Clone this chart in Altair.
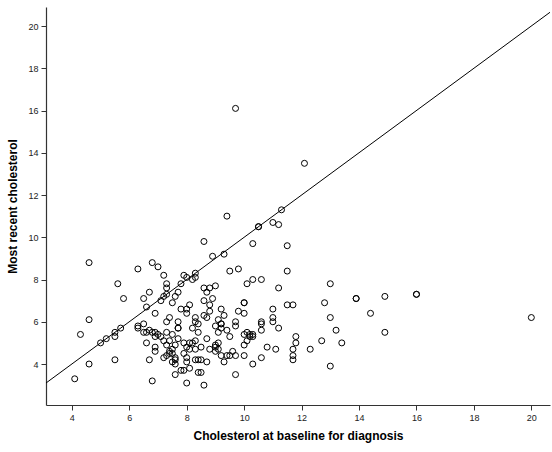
import altair as alt
import pandas as pd

baseline = [
    9.7, 12.1, 11.3, 9.4, 10.5, 10.5, 11.0, 11.2, 10.3, 11.5, 8.6, 8.9, 9.3,
    4.6, 6.8, 7.0, 6.3, 9.5, 9.8, 11.5, 7.2, 7.9, 8.0, 8.2, 8.3, 8.3, 10.3, 10.6,
    13.0, 5.6, 7.3, 7.3, 7.8, 10.1, 9.0, 8.6, 8.8, 11.2, 6.7, 7.7, 8.7,
    16.0, 16.0, 7.6, 7.2, 7.3, 14.9, 5.8, 6.5, 8.9, 13.9, 13.9, 7.1, 8.6,
    7.5, 10.0, 10.0, 12.8, 8.1, 8.8, 11.5, 11.7, 6.6, 7.8, 8.0, 9.2, 11.0,
    8.8, 9.8, 6.9, 8.0, 10.0, 14.4, 8.6, 9.3, 7.4, 8.3, 8.7, 11.0, 13.0, 20.0,
    4.6, 9.1, 7.3, 7.7, 8.3, 9.7, 10.6, 11.0, 6.5, 8.4, 9.2, 9.2, 10.6,
    6.3, 9.0, 9.7, 5.7, 6.3, 7.7, 7.7, 8.2, 9.2, 11.2, 6.7, 9.4, 10.6, 13.2,
    5.5, 6.5, 6.6, 6.8, 6.9, 7.3, 8.4, 9.1, 10.1, 14.9,
    7.0, 4.3, 7.5, 10.0, 10.2, 10.3, 5.5, 6.9, 7.1, 9.5, 10.2, 10.3, 11.8,
    5.2, 7.7, 8.7, 7.2, 7.4, 8.3, 10.1, 12.7,
    5.0, 6.6, 7.9, 8.1, 8.2, 9.1, 11.8, 13.4, 7.3, 7.6, 9.0, 10.0,
    6.9, 8.0, 8.5, 9.0, 10.8, 7.5, 8.1, 8.3, 8.8, 9.1, 11.1, 11.7, 12.3,
    6.9, 7.4, 9.0, 9.6, 7.5, 7.9, 7.4, 7.2, 7.3, 9.2, 9.4, 9.5, 9.7, 10.0, 11.7,
    7.6, 8.0, 10.6, 5.5, 6.7, 7.6, 8.3, 8.4, 8.5, 11.7,
    7.5, 8.0, 8.7, 9.3, 4.6, 7.6, 10.3, 13.0, 8.1, 7.8, 7.9, 8.4, 8.5,
    7.6, 9.7, 4.1, 6.8, 8.0, 8.6,
]
recent = [
    16.1, 13.5, 11.3, 11.0, 10.5, 10.5, 10.7, 10.6, 9.7, 9.6, 9.8, 9.1, 9.2,
    8.8, 8.8, 8.6, 8.5, 8.4, 8.5, 8.4, 8.2, 8.2, 8.1, 8.0, 8.3, 8.1, 8.0, 8.0,
    7.8, 7.8, 7.8, 7.6, 7.8, 7.8, 7.7, 7.6, 7.6, 7.6, 7.4, 7.4, 7.4,
    7.3, 7.3, 7.2, 7.2, 7.3, 7.2, 7.1, 7.1, 7.1, 7.1, 7.1, 7.0, 7.0,
    6.9, 6.9, 6.9, 6.9, 6.8, 6.8, 6.8, 6.8, 6.7, 6.6, 6.6, 6.6, 6.6,
    6.5, 6.5, 6.4, 6.4, 6.4, 6.4, 6.3, 6.3, 6.2, 6.2, 6.2, 6.2, 6.2, 6.2,
    6.1, 6.1, 6.0, 6.0, 6.0, 6.0, 6.0, 6.0, 5.9, 5.9, 5.9, 5.9, 5.9,
    5.8, 5.8, 5.8, 5.7, 5.7, 5.7, 5.7, 5.7, 5.7, 5.7, 5.6, 5.6, 5.6, 5.6,
    5.5, 5.5, 5.5, 5.5, 5.5, 5.5, 5.5, 5.5, 5.5, 5.5,
    5.4, 5.4, 5.4, 5.4, 5.4, 5.4, 5.3, 5.3, 5.3, 5.3, 5.3, 5.3, 5.3,
    5.2, 5.2, 5.2, 5.1, 5.1, 5.1, 5.1, 5.1,
    5.0, 5.0, 5.0, 5.0, 5.0, 5.0, 5.0, 5.0, 4.9, 4.9, 4.9, 4.9,
    4.8, 4.8, 4.8, 4.8, 4.8, 4.7, 4.7, 4.7, 4.7, 4.7, 4.7, 4.7, 4.7,
    4.6, 4.6, 4.6, 4.6, 4.5, 4.5, 4.5, 4.3, 4.4, 4.4, 4.4, 4.4, 4.4, 4.4, 4.4,
    4.3, 4.3, 4.3, 4.2, 4.2, 4.2, 4.2, 4.2, 4.2, 4.2,
    4.1, 4.1, 4.1, 4.1, 4.0, 4.0, 4.0, 3.9, 3.8, 3.7, 3.7, 3.6, 3.6,
    3.5, 3.5, 3.3, 3.2, 3.1, 3.0,
]

x_domain = [3.1, 20.65]
y_domain = [2.06, 20.9]
x_ticks = [4, 6, 8, 10, 12, 14, 16, 18, 20]
y_ticks = [4, 6, 8, 10, 12, 14, 16, 18, 20]

df = pd.DataFrame({"baseline": baseline, "recent": recent})
ref = pd.DataFrame({"baseline": x_domain, "recent": x_domain})

FONT = "Liberation Sans"

x_enc = alt.X(
    "baseline:Q",
    title="Cholesterol at baseline for diagnosis",
    scale=alt.Scale(domain=x_domain, nice=False, zero=False),
    axis=alt.Axis(values=x_ticks, grid=False, tickSize=5, labelPadding=3,
                  titlePadding=8),
)
y_enc = alt.Y(
    "recent:Q",
    title="Most recent cholesterol",
    scale=alt.Scale(domain=y_domain, nice=False, zero=False),
    axis=alt.Axis(values=y_ticks, grid=False, tickSize=5, labelPadding=3,
                  titlePadding=8),
)

points = alt.Chart(df).mark_point(
    shape="circle", filled=False, stroke="black", strokeWidth=1, size=36, opacity=1
).encode(x=x_enc, y=y_enc)

line = alt.Chart(ref).mark_line(color="black", strokeWidth=1, clip=True).encode(
    x="baseline:Q", y="recent:Q"
)

chart = (
    alt.layer(line, points)
    .properties(
        width=504,
        height=398,
        autosize=alt.AutoSizeParams(type="none"),
        padding={"left": 46, "top": 7, "right": 2, "bottom": 47},
    )
    .configure_view(stroke=None)
    .configure_axis(
        labelFont=FONT,
        titleFont=FONT,
        labelFontSize=9,
        titleFontSize=12,
        titleFontWeight="bold",
        labelColor="#222222",
        titleColor="black",
        domainColor="#333333",
        tickColor="#333333",
        domainWidth=1.2,
    )
)

chart.save("out.html", embed_options={"renderer": "svg", "actions": False})
